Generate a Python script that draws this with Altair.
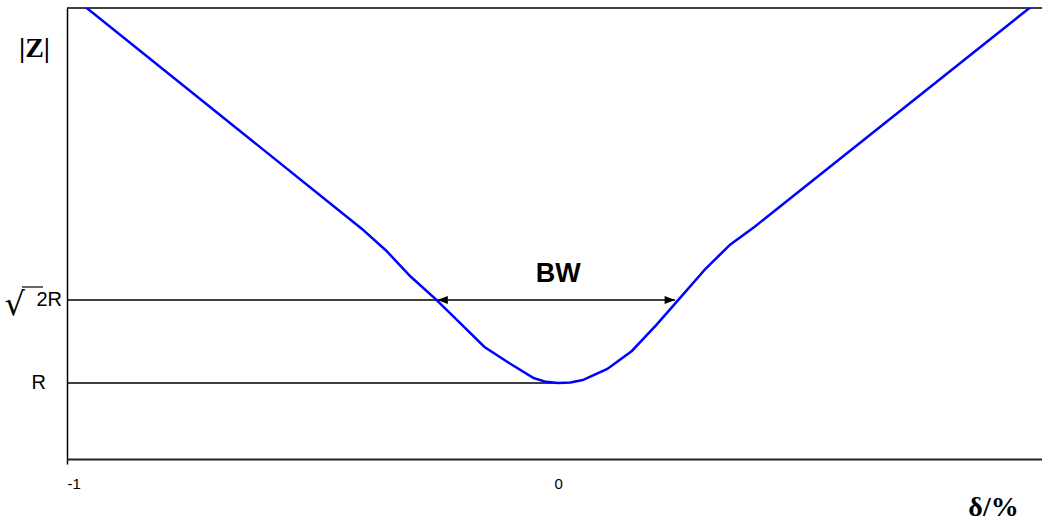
import altair as alt
import pandas as pd

# Impedance magnitude |Z| (in units of R) against relative detuning delta
delta = [-1.0, -0.4, -0.35, -0.3, -0.25, -0.2, -0.15, -0.1, -0.05, -0.025,
         0.0, 0.025, 0.05, 0.1, 0.15, 0.2, 0.25, 0.3, 0.35, 0.4, 1.0]
impedance = [2.95, 1.77, 1.66, 1.53, 1.42, 1.30, 1.18, 1.10, 1.025, 1.006,
             1.0, 1.003, 1.015, 1.07, 1.16, 1.29, 1.43, 1.57, 1.69, 1.78, 2.95]

R = 1.0
SQRT2R = 2 ** 0.5
bw_left, bw_right = -0.246, 0.238   # where the curve crosses sqrt(2)*R

x_ticks = [-1, 0]
x_domain = [-1.0, 0.985]
y_domain = [0.621, 2.871]

W, H = 975, 451

xscale = alt.Scale(domain=x_domain, nice=False, zero=False)
yscale = alt.Scale(domain=y_domain, nice=False, zero=False)

curve_df = pd.DataFrame({"delta": delta, "Z": impedance})
hline_df = pd.DataFrame({
    "delta": [-1.0, -1.0, bw_left],
    "delta2": [0.0, bw_left, bw_right],
    "Z": [R, SQRT2R, SQRT2R],
})
head_df = pd.DataFrame({"delta": [bw_left, bw_right], "Z": [SQRT2R, SQRT2R], "rot": [180, 0]})

bottom_axis = alt.Axis(
    values=x_ticks,
    labelExpr="replace(datum.label, '\u2212', '-')",
    labelFont="Liberation Sans", labelFontSize=15, labelColor="black",
    labelPadding=12, tickSize=5, tickWidth=1.5, grid=False,
    tickColor={"condition": {"test": "datum.value == 0", "value": "transparent"}, "value": "black"},
    domainColor="#222222", domainWidth=2,
    title="δ/%", titleFont="Liberation Serif", titleFontWeight="bold", titleFontSize=28,
    titleColor="black", titleAngle=0, titleX=926, titleY=56,
    titleAlign="center", titleBaseline="alphabetic",
)
left_axis = alt.Axis(
    labels=False, ticks=False, grid=False, domainColor="black", domainWidth=1.5,
    title="|Z|", titleFont="Liberation Serif", titleFontWeight="bold", titleFontSize=28,
    titleColor="black", titleAngle=0, titleX=-33, titleY=40,
    titleAlign="center", titleBaseline="middle",
)


def xenc(field="delta"):
    return alt.X(f"{field}:Q", scale=xscale, axis=bottom_axis)


def yenc(field="Z"):
    return alt.Y(f"{field}:Q", scale=yscale, axis=left_axis)


# upper frame edge of the plot area
frame_top = alt.Chart(pd.DataFrame({"k": [0]})).mark_rule(color="black", strokeWidth=1.5).encode(
    x=alt.value(0), x2=alt.value(W), y=alt.value(0)
)

hlines = alt.Chart(hline_df).mark_rule(color="black", strokeWidth=1.5).encode(
    x=xenc(), x2="delta2:Q", y=yenc(),
)

arrow_path = "M 0 0 L -2 -0.75 L -2 0.75 Z"
heads = alt.Chart(head_df).mark_point(
    shape=arrow_path, filled=True, size=110, color="black", opacity=1
).encode(
    x=xenc(), y=yenc(),
    angle=alt.Angle("rot:Q", scale=None),
)

curve = alt.Chart(curve_df).mark_line(color="#0000FF", strokeWidth=2.5, clip=True).encode(
    x=xenc(), y=yenc(),
    order=alt.Order("delta:Q"),
)

bw_label = alt.Chart(pd.DataFrame({"delta": [0.0], "Z": [SQRT2R], "t": ["BW"]})).mark_text(
    font="Liberation Sans", fontWeight="bold", fontSize=27, color="black",
    align="center", baseline="middle", dy=-26,
).encode(x=xenc(), y=yenc(), text="t:N")

r_label = alt.Chart(pd.DataFrame({"Z": [R], "t": ["R"]})).mark_text(
    font="Liberation Sans", fontSize=20, color="black",
    align="right", baseline="middle", dx=-21,
).encode(x=alt.value(0), y=yenc(), text="t:N")

r2_label = alt.Chart(pd.DataFrame({"Z": [SQRT2R], "t": ["2R"]})).mark_text(
    font="Liberation Sans", fontSize=20, color="black",
    align="right", baseline="middle", dx=-5,
).encode(x=alt.value(0), y=yenc(), text="t:N")

radical = alt.Chart(pd.DataFrame({"Z": [SQRT2R], "t": ["√"]})).mark_text(
    font="DejaVu Sans", fontSize=32, color="black",
    align="right", baseline="alphabetic", dx=-42, dy=15,
).encode(x=alt.value(0), y=yenc(), text="t:N")

overbar = alt.Chart(pd.DataFrame({"Z": [SQRT2R]})).mark_rule(
    color="black", strokeWidth=1.2, yOffset=-13
).encode(x=alt.value(-45), x2=alt.value(-24), y=yenc())

chart = alt.layer(
    frame_top, hlines, heads, curve, bw_label, r_label, r2_label, radical, overbar
).properties(
    width=W, height=H,
    autosize=alt.AutoSizeParams(type="none"),
    padding={"left": 67, "top": 8, "right": 0, "bottom": 63},
    background="white",
).configure_view(stroke=None)

chart.save("out.html", embed_options={"renderer": "svg", "actions": False})
